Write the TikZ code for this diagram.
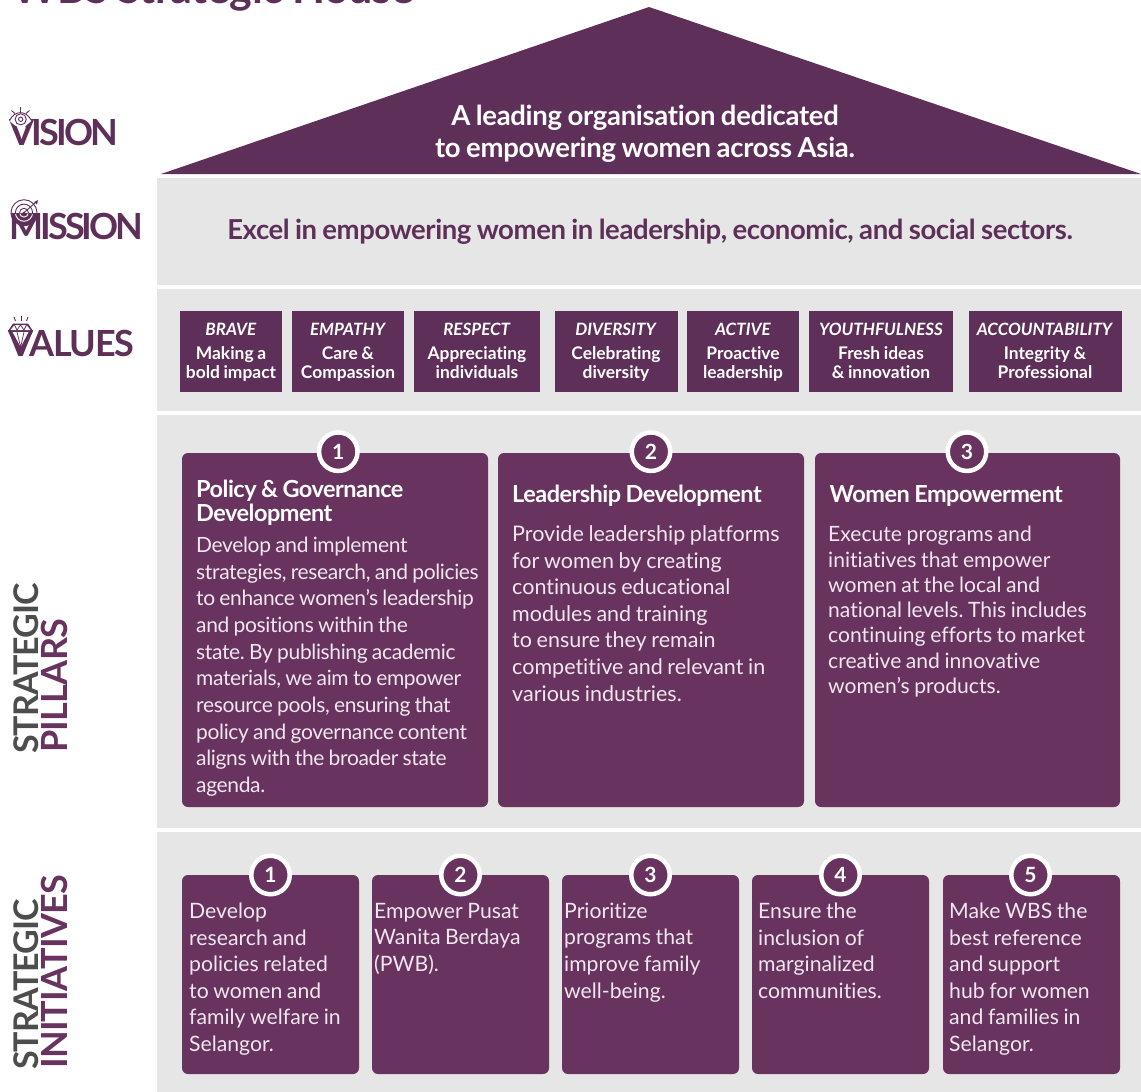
\documentclass[tikz,border=0pt]{standalone}
\usepackage{fontspec}
\setmainfont{Lato}[Ligatures=CommonOff,WordSpace=0.85]
\definecolor{roof}{HTML}{5E2F58}
\definecolor{card}{HTML}{69335F}
\definecolor{band}{HTML}{E6E6E6}
\definecolor{greytxt}{HTML}{4D4D4D}
\definecolor{bodytxt}{HTML}{EFE6EE}
\newcommand{\fsz}[2]{\fontsize{#1}{#2}\selectfont\frenchspacing}
\newcommand{\ls}[1]{\addfontfeature{LetterSpace=#1}}
\tikzset{
  bandbox/.style={fill=band,draw=none},
  valuebox/.style={fill=roof,draw=none},
  cardbox/.style={fill=card,draw=none,rounded corners=6pt},
  numdot/.style={circle,fill=card,draw=white,line width=4.5pt,minimum size=38.5pt,inner sep=0pt,text=white,font=\bfseries\fsz{21}{21}},
  sidelabel/.style={anchor=base west,inner sep=0pt,text=roof,font=\bfseries\fsz{36}{36}},
  sidegrey/.style={anchor=base west,inner sep=0pt,rotate=90,text=greytxt,font=\bfseries\fsz{34}{34}},
  sidepurple/.style={anchor=base west,inner sep=0pt,rotate=90,text=card,font=\bfseries\fsz{36}{36}},
  valtxt/.style={anchor=north,inner sep=0pt,align=center,text=white,font=\bfseries\fsz{17.4}{19}},
  cardhead/.style={anchor=north west,inner sep=0pt,align=left,text=white,font=\bfseries\fsz{23.5}{24}\ls{-2.2}},
  cardbody/.style={anchor=north west,inner sep=0pt,align=left,text=bodytxt,font=\fsz{21}{26.6}},
  icon/.style={roof,line width=0.9pt},
  iconw/.style={white,line width=0.9pt},
}
\begin{document}
\begin{tikzpicture}[x=1pt,y=-1pt]
\useasboundingbox (0,0) rectangle (1141,1092);
\clip (0,0) rectangle (1141,1092);
% title
\node[anchor=base west,inner sep=0pt,text=roof,font=\bfseries\fsz{43}{43}\ls{-0.8}] (title) at (12,3) {WBS Strategic House};
% bands
\fill[bandbox] (157,178) rectangle (1141,285);
\fill[bandbox] (157,289) rectangle (1141,411);
\fill[bandbox] (157,415) rectangle (1141,828);
\fill[bandbox] (157,832) rectangle (1141,1092);
% roof
\fill[roof] (649,7) -- (1141,174) -- (161,174) -- cycle;
\node[anchor=north,inner sep=0pt,align=center,text=white,font=\bfseries\fsz{27.5}{32}\ls{-1.1}] (visiontext) at (645,105) {A leading organisation dedicated\\to empowering women across Asia.};
\node[anchor=base,inner sep=0pt,text=roof,font=\bfseries\fsz{27.5}{27.5}\ls{-1.5}] (missiontext) at (650,239) {Excel in empowering women in leadership, economic, and social sectors.};
% side labels
\node[sidelabel] (vision) at (9,145) {\ls{-7.5}VISION};
\node[sidelabel] (mission) at (9,239) {\ls{-8}MISSION};
\node[sidelabel] (values) at (8,356) {\ls{-4}VALUES};
\node[sidegrey] (sp1) at (38,754) {\ls{-3}STRATEGIC};
\node[sidepurple] (sp2) at (67,753) {\ls{-2}PILLARS};
\node[sidegrey] (si1) at (38,1070) {\ls{-3}STRATEGIC};
\node[sidepurple] (si2) at (67,1069) {\ls{-2.2}INITIATIVES};
% vision icon
\fill[white] (9.5,120.5) .. controls (15,110) and (26,110) .. (31.5,120.5) .. controls (26,129) and (15,129) .. (9.5,120.5) -- cycle;
\draw[icon] (9.5,120.5) .. controls (15,110) and (26,110) .. (31.5,120.5);
\draw[icon] (11,123) -- (15.5,127);
\draw[icon] (30,123) -- (25.5,127);
\draw[icon] (20.7,119.3) circle (5.6);
\draw[icon] (20.7,119.3) circle (2.2);
\draw[icon] (20.5,107) -- (20.5,111.5);
\draw[icon] (11.5,110.5) -- (15,113.5);
\draw[icon] (29.5,110.5) -- (26,113.5);
% mission icon
\begin{scope}
\clip (8,213.5) rectangle (40,232);
\fill[roof] (24,212.7) circle (13.4);
\draw[iconw] (24,212.7) circle (8.6);
\draw[iconw] (24,212.7) circle (4.4);
\end{scope}
\begin{scope}
\clip (8,195) rectangle (40,213.5);
\draw[icon] (24,212.7) circle (13);
\draw[icon] (24,212.7) circle (8.6);
\draw[icon] (24,212.7) circle (4.4);
\end{scope}
\fill[roof] (24,212.7) circle (1.4);
\draw[icon] (24,212.7) -- (36,202);
\fill[roof] (34,202) -- (38,200) -- (37,204.5) -- cycle;
% values icon
\fill[roof] (13,323.5) -- (28,323.5) -- (33,331) -- (21,356) -- (8,331) -- cycle;
\fill[white] (14.5,325) -- (26.5,325) -- (30.5,330) -- (10.5,330) -- cycle;
\fill[white] (12.5,332) -- (28.5,332) -- (20.7,347) -- cycle;
\draw[roof,line width=0.7pt] (14.5,325) -- (17,330) -- (20.5,325) -- (24,330) -- (26.5,325);
\draw[roof,line width=0.7pt] (17,332) -- (20.7,347) -- (24,332);
\draw[icon] (14,317) -- (15.5,321);
\draw[icon] (21,316) -- (21,320.5);
\draw[icon] (28,317) -- (26.5,321);
% values
\fill[valuebox] (180,311) rectangle (282,392);
\fill[valuebox] (292,311) rectangle (404,392);
\fill[valuebox] (414,311) rectangle (540,392);
\fill[valuebox] (555,311) rectangle (678,392);
\fill[valuebox] (687,311) rectangle (799,392);
\fill[valuebox] (809,311) rectangle (953,392);
\fill[valuebox] (969,311) rectangle (1122,392);
\node[valtxt] (v1) at (231,323) {{\fontsize{17}{19}\selectfont\textit{BRAVE}}\\[5pt]Making a\\bold impact};
\node[valtxt] (v2) at (348,323) {{\fontsize{17}{19}\selectfont\textit{EMPATHY}}\\[5pt]Care \&\\Compassion};
\node[valtxt] (v3) at (477,323) {{\fontsize{17}{19}\selectfont\textit{RESPECT}}\\[5pt]Appreciating\\individuals};
\node[valtxt] (v4) at (616,323) {{\fontsize{17}{19}\selectfont\textit{DIVERSITY}}\\[5pt]Celebrating\\diversity};
\node[valtxt] (v5) at (743,323) {{\fontsize{17}{19}\selectfont\textit{ACTIVE}}\\[5pt]Proactive\\leadership};
\node[valtxt] (v6) at (881,323) {{\fontsize{17}{19}\selectfont\textit{YOUTHFULNESS}}\\[5pt]Fresh ideas\\\& innovation};
\node[valtxt] (v7) at (1045,323) {{\fontsize{17}{19}\selectfont\textit{ACCOUNTABILITY}}\\[5pt]Integrity \&\\Professional};
% pillars
\fill[cardbox] (182,453) rectangle (488,807);
\fill[cardbox] (498,453) rectangle (804,807);
\fill[cardbox] (815,453) rectangle (1120,807);
\node[numdot] (p1) at (338.3,451.7) {1};
\node[numdot] (p2) at (651,451.7) {2};
\node[numdot] (p3) at (967,451.7) {3};
\node[cardhead] (h1) at (196,480) {Policy \& Governance\\Development};
\node[cardhead] (h2) at (512,485) {Leadership Development};
\node[cardhead] (h3) at (829.5,485) {Women Empowerment};
\node[cardbody,font=\fsz{21}{26.65}\ls{-1.7}] (b1) at (196,537) {Develop and implement\\strategies, research, and policies\\to enhance women’s leadership\\and positions within the\\state. By publishing academic\\materials, we aim to empower\\resource pools, ensuring that\\policy and governance content\\aligns with the broader state\\agenda.};
\node[cardbody,font=\fsz{21.5}{26.6}] (b2) at (512,525.5) {Provide leadership platforms\\for women by creating\\continuous educational\\modules and training\\to ensure they remain\\competitive and relevant in\\various industries.};
\node[cardbody,font=\fsz{21.1}{25.3}] (b3) at (828,526) {Execute programs and\\initiatives that empower\\women at the local and\\national levels. This includes\\continuing efforts to market\\creative and innovative\\women’s products.};
% initiatives
\fill[cardbox] (182,875) rectangle (359,1074);
\fill[cardbox] (372,875) rectangle (549,1074);
\fill[cardbox] (562,875) rectangle (739,1074);
\fill[cardbox] (752,875) rectangle (929,1074);
\fill[cardbox] (943,875) rectangle (1120,1074);
\node[numdot] (i1) at (270.5,875) {1};
\node[numdot] (i2) at (460.5,875) {2};
\node[numdot] (i3) at (650.5,875) {3};
\node[numdot] (i4) at (840.5,875) {4};
\node[numdot] (i5) at (1030.5,875) {5};
\node[cardbody,font=\fsz{21.2}{26.6}] (t1) at (189,902.7) {Develop\\research and\\policies related\\to women and\\family welfare in\\Selangor.};
\node[cardbody,font=\fsz{21.2}{26.6}] (t2) at (374,902.7) {Empower Pusat\\Wanita Berdaya\\(PWB).};
\node[cardbody,font=\fsz{21.2}{26.6}] (t3) at (564,902.7) {Prioritize\\programs that\\improve family\\well-being.};
\node[cardbody,font=\fsz{21.2}{26.6}] (t4) at (758,902.7) {Ensure the\\inclusion of\\marginalized\\communities.};
\node[cardbody,font=\fsz{21.2}{26.6}] (t5) at (949,902.7) {Make WBS the\\best reference\\and support\\hub for women\\and families in\\Selangor.};
\end{tikzpicture}
\end{document}
